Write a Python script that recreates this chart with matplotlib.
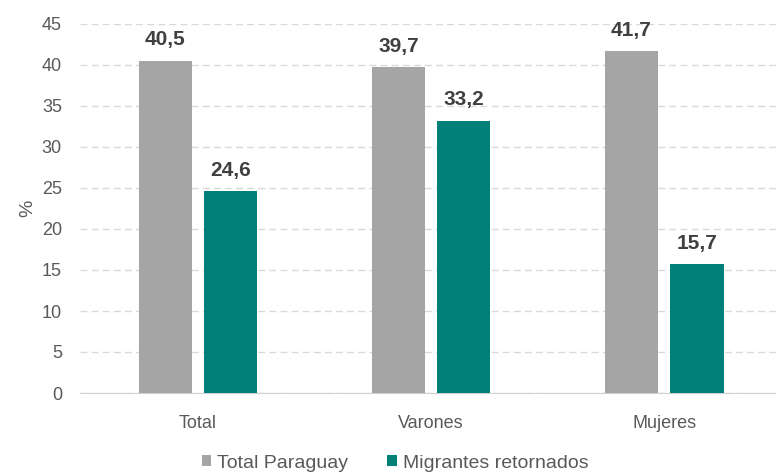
import matplotlib
matplotlib.use("Agg")
import matplotlib.pyplot as plt
import numpy as np

plt.rcParams['font.family'] = ['Liberation Sans', 'DejaVu Sans']

categories = ["Total", "Varones", "Mujeres"]
total_paraguay = [40.5, 39.7, 41.7]
migrantes = [24.6, 33.2, 15.7]
series_names = ["Total Paraguay", "Migrantes retornados"]
yticks = list(range(0, 50, 5))

fig = plt.figure(figsize=(7.76, 4.74), dpi=100)
ax = fig.add_axes([80/776, 1 - 393/474, 696/776, 369/474])

x = np.arange(len(categories))
w = 0.23
off = 0.14
c1 = "#a5a5a5"
c2 = "#008078"
b1 = ax.bar(x - off, total_paraguay, w, color=c1, label=series_names[0], zorder=3)
b2 = ax.bar(x + off, migrantes, w, color=c2, label=series_names[1], zorder=3)

for bars, vals in ((b1, total_paraguay), (b2, migrantes)):
    for r, v in zip(bars, vals):
        ax.text(r.get_x() + r.get_width()/2, v + 1.4, f"{v:.1f}".replace(".", ","),
                ha="center", va="bottom", fontsize=15, fontweight="bold", color="#404040")

ax.set_ylim(0, 45)
ax.set_yticks(yticks)
ax.set_xlim(-0.506, 2.48)
ax.set_xticks(x)
ax.set_xticklabels(categories)
ax.tick_params(axis="both", length=0, labelsize=13, colors="#595959")
ax.tick_params(axis="x", pad=16)
ax.tick_params(axis="y", pad=13)
ax.yaxis.grid(True, linestyle=(0, (5, 3)), color="#d9d9d9", linewidth=1, zorder=0)
for s in ("top", "right", "left"):
    ax.spines[s].set_visible(False)
ax.spines["bottom"].set_color("#d0d0d0")
ax.set_ylabel("%", fontsize=14, color="#595959", labelpad=4)

ax.legend(loc="center", bbox_to_anchor=(395/776, 1 - 463/474), bbox_transform=fig.transFigure,
          ncol=2, frameon=False, fontsize=14, handlelength=0.5, handleheight=0.5,
          handletextpad=0.3, columnspacing=2.0, labelcolor="#595959")

fig.savefig("out.png", dpi=100)
